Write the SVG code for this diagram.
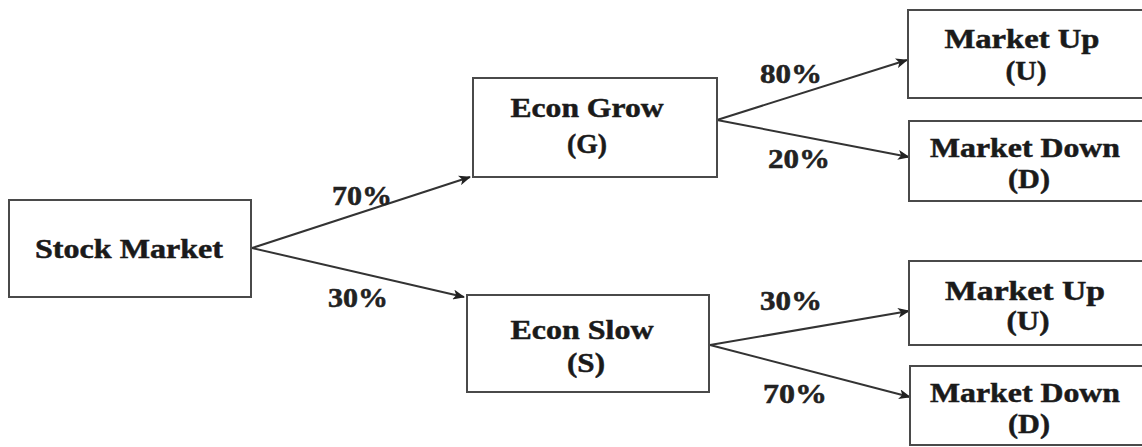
<svg xmlns="http://www.w3.org/2000/svg" width="1142" height="447" viewBox="0 0 1142 447">
  <defs>
    <marker id="arrow" viewBox="0 0 12 10" refX="11" refY="5" markerWidth="12" markerHeight="10" markerUnits="userSpaceOnUse" orient="auto">
      <path d="M0,0 L12,5 L0,10 L3,5 Z" fill="#222"/>
    </marker>
    <style>
      .box { fill: #fff; stroke: #4a4a4a; stroke-width: 2; }
      .lbl { font-family: 'Liberation Serif', serif; font-weight: 700; font-size: 28px; fill: #1a1a1a; stroke: #1a1a1a; stroke-width: 0.5; text-anchor: middle; }
      .pct { font-family: 'Liberation Serif', serif; font-weight: 700; font-size: 27px; fill: #222; stroke: #222; stroke-width: 0.5; }
      .edge { fill: none; stroke: #333; stroke-width: 2; marker-end: url(#arrow); }
    </style>
  </defs>
  <rect width="1142" height="447" fill="#fff"/>

  <g id="connectors">
    <line class="edge" x1="252" y1="248" x2="470" y2="177"/>
    <line class="edge" x1="252" y1="248" x2="464" y2="297"/>
    <line class="edge" x1="717" y1="120" x2="907" y2="60"/>
    <line class="edge" x1="717" y1="120" x2="909" y2="157"/>
    <line class="edge" x1="710" y1="345" x2="909" y2="311"/>
    <line class="edge" x1="710" y1="345" x2="910" y2="397"/>
    <text class="pct" x="332" y="205" textLength="60" lengthAdjust="spacingAndGlyphs">70%</text>
    <text class="pct" x="328" y="307" textLength="60" lengthAdjust="spacingAndGlyphs">30%</text>
    <text class="pct" x="760" y="83" textLength="62" lengthAdjust="spacingAndGlyphs">80%</text>
    <text class="pct" x="768" y="168" textLength="62" lengthAdjust="spacingAndGlyphs">20%</text>
    <text class="pct" x="760" y="310" textLength="62" lengthAdjust="spacingAndGlyphs">30%</text>
    <text class="pct" x="763" y="403" textLength="64" lengthAdjust="spacingAndGlyphs">70%</text>
  </g>

  <g id="stock-market">
    <rect class="box" x="9" y="200" width="242" height="97"/>
    <text class="lbl" x="129" y="258" textLength="188" lengthAdjust="spacingAndGlyphs">Stock Market</text>
  </g>

  <g id="econ-grow">
    <rect class="box" x="473" y="78" width="244" height="99"/>
    <text class="lbl" x="587" y="117" textLength="153" lengthAdjust="spacingAndGlyphs">Econ Grow</text>
    <text class="lbl" x="587" y="153" textLength="40" lengthAdjust="spacingAndGlyphs">(G)</text>
  </g>

  <g id="econ-slow">
    <rect class="box" x="467" y="295" width="242" height="97"/>
    <text class="lbl" x="582" y="339" textLength="143" lengthAdjust="spacingAndGlyphs">Econ Slow</text>
    <text class="lbl" x="586" y="372" textLength="38" lengthAdjust="spacingAndGlyphs">(S)</text>
  </g>

  <g id="grow-market-up">
    <rect class="box" x="908" y="10" width="250" height="88"/>
    <text class="lbl" x="1022" y="48" textLength="155" lengthAdjust="spacingAndGlyphs">Market Up</text>
    <text class="lbl" x="1026" y="80" textLength="41" lengthAdjust="spacingAndGlyphs">(U)</text>
  </g>

  <g id="grow-market-down">
    <rect class="box" x="909" y="121" width="250" height="80"/>
    <text class="lbl" x="1025" y="157" textLength="190" lengthAdjust="spacingAndGlyphs">Market Down</text>
    <text class="lbl" x="1029" y="188" textLength="42" lengthAdjust="spacingAndGlyphs">(D)</text>
  </g>

  <g id="slow-market-up">
    <rect class="box" x="909" y="261" width="250" height="84"/>
    <text class="lbl" x="1025" y="300" textLength="160" lengthAdjust="spacingAndGlyphs">Market Up</text>
    <text class="lbl" x="1028" y="330" textLength="43" lengthAdjust="spacingAndGlyphs">(U)</text>
  </g>

  <g id="slow-market-down">
    <rect class="box" x="910" y="366" width="250" height="79"/>
    <text class="lbl" x="1025" y="402" textLength="190" lengthAdjust="spacingAndGlyphs">Market Down</text>
    <text class="lbl" x="1029" y="433" textLength="42" lengthAdjust="spacingAndGlyphs">(D)</text>
  </g>
</svg>
